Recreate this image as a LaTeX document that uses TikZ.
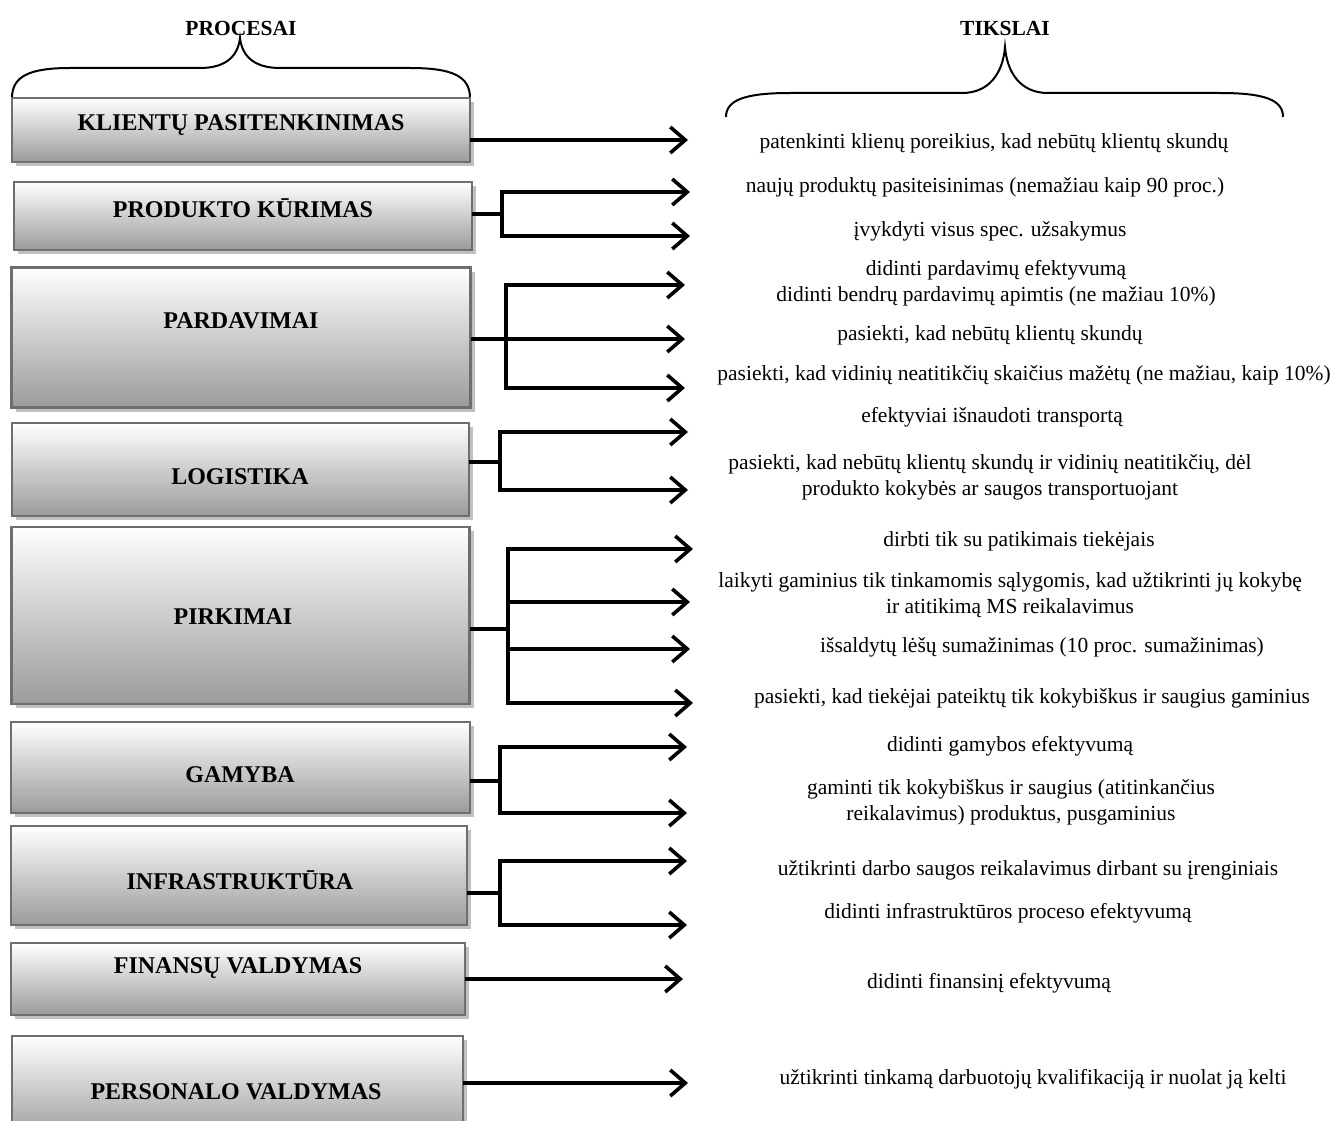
\documentclass[tikz,border=0pt]{standalone}
\usepackage{fontspec}
\setmainfont{Liberation Serif}
\usetikzlibrary{arrows.meta,shadows}
\definecolor{boxedge}{RGB}{110,110,110}
\definecolor{boxbottom}{RGB}{155,155,155}
\definecolor{boxshadow}{RGB}{192,192,192}
\tikzset{
  procbox/.style={draw=boxedge, line width=2.4pt, top color=white, bottom color=boxbottom,
    inner sep=0pt, outer sep=0pt,
    drop shadow={shadow xshift=4pt, shadow yshift=-4pt, fill=boxshadow, opacity=1}},
  proclabel/.style={font=\fontsize{24}{28}\selectfont\bfseries, inner sep=0pt},
  headlabel/.style={font=\fontsize{21.5}{25}\selectfont\bfseries, inner sep=0pt},
  goal/.style={font=\fontsize{21.5}{26}\selectfont, align=center, inner sep=0pt},
  link/.style={line width=3.6pt},
  arr/.style={line width=3.6pt, -{Straight Barb[length=15pt, width=26pt]}},
  bracestyle/.style={line width=2pt}
}
\begin{document}
\begin{tikzpicture}[x=1pt,y=-1pt]
\clip (0,0) rectangle (1330,1121);
\fill[white] (0,0) rectangle (1330,1121);

% headers and braces
\node[headlabel] (hp) at (241,28) {PROCESAI};
\node[headlabel] (ht) at (1005,28) {TIKSLAI};
\draw[bracestyle] (12,98) .. controls (12,76) and (30,68) .. (70,68) -- (200,68)
  .. controls (226,68) and (238,56) .. (240,38)
  .. controls (242,56) and (254,68) .. (280,68) -- (410,68)
  .. controls (452,68) and (470,76) .. (470,98);
\draw[bracestyle] (726,117) .. controls (726,100) and (745,93) .. (790,93) -- (962,93)
  .. controls (990,93) and (1003,72) .. (1005,47)
  .. controls (1007,72) and (1020,93) .. (1048,93) -- (1220,93)
  .. controls (1265,93) and (1283,100) .. (1283,117);

% process boxes
\node[procbox, minimum width=458pt, minimum height=64pt] (b1) at (241,130) {};
\node[procbox, minimum width=458pt, minimum height=68pt] (b2) at (243,216) {};
\node[procbox, minimum width=459pt, minimum height=140pt] (b3) at (241,337.5) {};
\node[procbox, minimum width=457pt, minimum height=93pt] (b4) at (240.5,469.5) {};
\node[procbox, minimum width=458pt, minimum height=177pt] (b5) at (240.5,615.5) {};
\node[procbox, minimum width=459pt, minimum height=91pt] (b6) at (240.5,767.5) {};
\node[procbox, minimum width=456pt, minimum height=99pt] (b7) at (239,875.5) {};
\node[procbox, minimum width=454pt, minimum height=72pt] (b8) at (238,979) {};
\node[procbox, minimum width=451pt, minimum height=104pt] (b9) at (237.5,1088) {};

\node[proclabel] (l1) at (241,125) {KLIENTŲ PASITENKINIMAS};
\node[proclabel] (l2) at (243,208) {PRODUKTO KŪRIMAS};
\node[proclabel] (l3) at (241,321) {PARDAVIMAI};
\node[proclabel] (l4) at (240,477) {LOGISTIKA};
\node[proclabel] (l5) at (233,617) {PIRKIMAI};
\node[proclabel] (l6) at (240,775) {GAMYBA};
\node[proclabel] (l7) at (240,880) {INFRASTRUKTŪRA};
\node[proclabel] (l8) at (238,968) {FINANSŲ VALDYMAS};
\node[proclabel] (l9) at (236,1092) {PERSONALO VALDYMAS};

% goals
\node[goal] (g1) at (994,143) {patenkinti klienų poreikius, kad nebūtų klientų skundų};
\node[goal] (g2) at (985,187) {naujų produktų pasiteisinimas (nemažiau kaip 90 proc.)};
\node[goal] (g3) at (990,231) {įvykdyti visus spec. užsakymus};
\node[goal] (g4) at (996,283) {didinti pardavimų efektyvumą\\didinti bendrų pardavimų apimtis (ne mažiau 10\%)};
\node[goal] (g5) at (990,335) {pasiekti, kad nebūtų klientų skundų};
\node[goal] (g6) at (1024,375) {pasiekti, kad vidinių neatitikčių skaičius mažėtų (ne mažiau, kaip 10\%)};
\node[goal] (g7) at (992,417) {efektyviai išnaudoti transportą};
\node[goal] (g8) at (990,477) {pasiekti, kad nebūtų klientų skundų ir vidinių neatitikčių, dėl\\produkto kokybės ar saugos transportuojant};
\node[goal] (g9) at (1019,541) {dirbti tik su patikimais tiekėjais};
\node[goal] (g10) at (1010,595) {laikyti gaminius tik tinkamomis sąlygomis, kad užtikrinti jų kokybę\\ir atitikimą MS reikalavimus};
\node[goal] (g11) at (1042,647) {išsaldytų lėšų sumažinimas (10 proc. sumažinimas)};
\node[goal] (g12) at (1032,698) {pasiekti, kad tiekėjai pateiktų tik kokybiškus ir saugius gaminius};
\node[goal] (g13) at (1010,746) {didinti gamybos efektyvumą};
\node[goal] (g14) at (1011,802) {gaminti tik kokybiškus ir saugius (atitinkančius\\reikalavimus) produktus, pusgaminius};
\node[goal] (g15) at (1028,870) {užtikrinti darbo saugos reikalavimus dirbant su įrenginiais};
\node[goal] (g16) at (1008,913) {didinti infrastruktūros proceso efektyvumą};
\node[goal] (g17) at (989,983) {didinti finansinį efektyvumą};
\node[goal] (g18) at (1033,1079) {užtikrinti tinkamą darbuotojų kvalifikaciją ir nuolat ją kelti};

% junctions and arrow ends
\coordinate (e1) at (688,140);
\coordinate (j2) at (502,214);
\coordinate (e2a) at (690,192);
\coordinate (e2b) at (690,236);
\coordinate (j3) at (506,339);
\coordinate (e3a) at (685,285);
\coordinate (e3b) at (685,339);
\coordinate (e3c) at (685,388);
\coordinate (j4) at (500,462);
\coordinate (e4a) at (688,432);
\coordinate (e4b) at (688,490);
\coordinate (j5) at (508,629);
\coordinate (e5a) at (693,549);
\coordinate (e5b) at (690,602);
\coordinate (e5c) at (690,649);
\coordinate (e5d) at (693,703);
\coordinate (j6) at (500,781);
\coordinate (e6a) at (687,747);
\coordinate (e6b) at (687,813);
\coordinate (j7) at (500,893);
\coordinate (e7a) at (687,861);
\coordinate (e7b) at (687,925);
\coordinate (e8) at (683,979);
\coordinate (e9) at (688,1083);

% connectors
\draw[arr] (b1.east |- e1) -- (e1);

\draw[link] (b2.east |- j2) -- (j2);
\draw[arr] (j2) |- (e2a);
\draw[arr] (j2) |- (e2b);

\draw[link] (j3 |- e3a) -- (j3 |- e3c);
\draw[arr] (b3.east |- e3b) -- (e3b);
\draw[arr] (j3) |- (e3a);
\draw[arr] (j3) |- (e3c);

\draw[link] (b4.east |- j4) -- (j4);
\draw[arr] (j4) |- (e4a);
\draw[arr] (j4) |- (e4b);

\draw[link] (b5.east |- j5) -- (j5);
\draw[arr] (j5) |- (e5a);
\draw[arr] (j5 |- e5b) -- (e5b);
\draw[arr] (j5 |- e5c) -- (e5c);
\draw[arr] (j5) |- (e5d);

\draw[link] (b6.east |- j6) -- (j6);
\draw[arr] (j6) |- (e6a);
\draw[arr] (j6) |- (e6b);

\draw[link] (b7.east |- j7) -- (j7);
\draw[arr] (j7) |- (e7a);
\draw[arr] (j7) |- (e7b);

\draw[arr] (b8.east |- e8) -- (e8);
\draw[arr] (b9.east |- e9) -- (e9);
\end{tikzpicture}
\end{document}
